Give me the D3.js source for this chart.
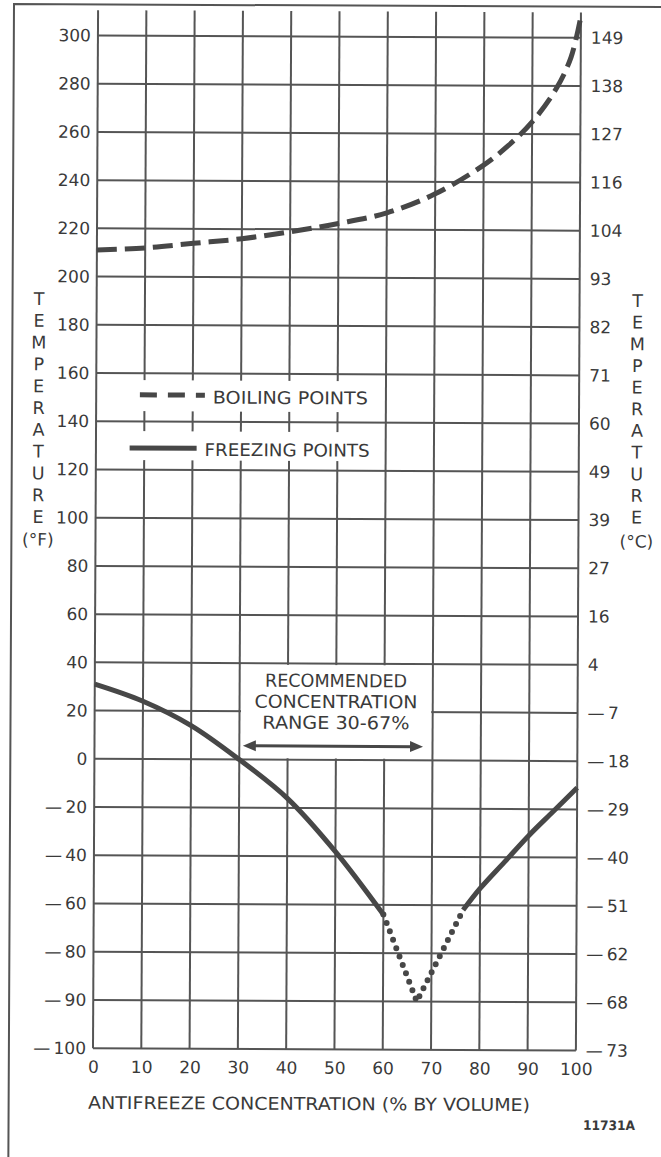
<!DOCTYPE html>
<html>
<head>
<meta charset="utf-8">
<script src="https://cdn.jsdelivr.net/npm/d3@7"></script>
<style>
  body { margin: 0; background: #fff; }
  svg { display: block; }
</style>
</head>
<body>
<script>
// ---------------- DATA ----------------
const concentrationTicks = [0, 10, 20, 30, 40, 50, 60, 70, 80, 90, 100];
const fahrenheitTicks = [300, 280, 260, 240, 220, 200, 180, 160, 140, 120, 100, 80, 60, 40, 20, 0, -20, -40, -60, -80, -90, -100];
const celsiusLabels = ["149", "138", "127", "116", "104", "93", "82", "71", "60", "49", "39", "27", "16", "4", "-7", "-18", "-29", "-40", "-51", "-62", "-68", "-73"];

// Boiling points (dashed)
const boilingConc = [0, 10, 20, 30, 40, 50, 60, 70, 80, 85, 90, 95, 98, 100];
const boilingTemp = [211, 212, 214, 216, 219, 222.5, 227, 235, 247, 255, 265, 279, 292, 309];

// Freezing points (solid, left branch)
const freezeLeftConc = [0, 10, 20, 30, 40, 50, 60];
const freezeLeftTemp = [31, 24, 14, 0, -16, -38, -64];
// Freezing points (dotted section)
const freezeDotConc = [60, 67, 76.5];
const freezeDotTemp = [-64, -90, -62];
// Freezing points (solid, right branch)
const freezeRightConc = [76.5, 80, 85, 90, 95, 100];
const freezeRightTemp = [-62, -53, -42, -31, -21, -11];

const rangeLow = 30, rangeHigh = 67;
const annotationLines = ["RECOMMENDED", "CONCENTRATION", "RANGE  30-67%"];
const legendLabels = ["BOILING POINTS", "FREEZING POINTS"];
const titleLetters = "TEMPERATURE".split("");

// ---------------- LAYOUT ----------------
const W = 661, H = 1157;
const ink = "#3a3a3a", gridCol = "#555", curveCol = "#474747";
const font = "'DejaVu Sans', sans-serif";
const xL = 95.3, xR = 578.2, yTop = 36.6, yBot = 1049.3;
const step = (yBot - yTop) / 21;

const x = d3.scaleLinear().domain([0, 100]).range([xL, xR]);
const y = d3.scaleLinear().domain([-100, -90, -80, 300]).range([yBot, yBot - step, yBot - 2 * step, yTop]);

const svg = d3.select("body").append("svg").attr("width", W).attr("height", H);
svg.append("rect").attr("width", W).attr("height", H).attr("fill", "#fff");
const g = svg.append("g").attr("transform", "rotate(0.28,330,578)");

// outer border (left and top edges visible)
g.append("path").attr("d", `M11.2,1170 V5.5 H680`).attr("fill", "none").attr("stroke", gridCol).attr("stroke-width", 2);

// grid
const grid = g.append("g").attr("stroke", gridCol).attr("stroke-width", 2);
grid.selectAll("line.h").data(fahrenheitTicks).join("line").attr("class", "h")
  .attr("x1", x(0)).attr("x2", x(100)).attr("y1", d => y(d)).attr("y2", d => y(d));
grid.selectAll("line.v").data(concentrationTicks).join("line").attr("class", "v")
  .attr("x1", d => x(d)).attr("x2", d => x(d)).attr("y1", y(310.5)).attr("y2", y(-100));

// white label boxes over grid
const boxes = g.append("g").attr("fill", "#fff");
boxes.append("rect").attr("x", 126).attr("y", 381).attr("width", 250).attr("height", 31);
boxes.append("rect").attr("x", 126).attr("y", 432).attr("width", 250).attr("height", 29);
boxes.append("rect").attr("x", x(rangeLow) + 1.5).attr("y", y(40) + 1.5)
  .attr("width", x(70) - x(rangeLow) - 3).attr("height", y(0) - y(40) - 3);

// axes
const fmt = v => (String(v).startsWith("-") ? "\u2014\u2009" + String(v).slice(1) : String(v));
const styleAxis = sel => {
  sel.select(".domain").remove();
  sel.selectAll("text").attr("fill", ink).style("font-family", font).style("font-size", "17px");
};
g.append("g").attr("transform", `translate(${xL},0)`)
  .call(d3.axisLeft(y).tickValues(fahrenheitTicks).tickSize(0).tickPadding(7).tickFormat(fmt))
  .call(styleAxis);
g.append("g").attr("transform", `translate(${xR},0)`)
  .call(d3.axisRight(y).tickValues(fahrenheitTicks).tickSize(0).tickPadding(10).tickFormat((d, i) => fmt(celsiusLabels[i])))
  .call(styleAxis);
g.append("g").attr("transform", `translate(0,${yBot})`)
  .call(d3.axisBottom(x).tickValues(concentrationTicks).tickSize(0).tickPadding(12.5))
  .call(styleAxis);

// curves
const zip = (a, b) => a.map((v, i) => [v, b[i]]);
const smooth = d3.line().x(d => x(d[0])).y(d => y(d[1])).curve(d3.curveCatmullRom.alpha(0.5));
const straight = d3.line().x(d => x(d[0])).y(d => y(d[1]));

g.append("path").attr("d", smooth(zip(boilingConc, boilingTemp)))
  .attr("fill", "none").attr("stroke", curveCol).attr("stroke-width", 5)
  .attr("stroke-dasharray", "20,8");
g.append("path").attr("d", smooth(zip(freezeLeftConc, freezeLeftTemp)))
  .attr("fill", "none").attr("stroke", curveCol).attr("stroke-width", 5);
g.append("path").attr("d", smooth(zip(freezeRightConc, freezeRightTemp)))
  .attr("fill", "none").attr("stroke", curveCol).attr("stroke-width", 5);
g.append("path").attr("d", straight(zip(freezeDotConc, freezeDotTemp)))
  .attr("fill", "none").attr("stroke", curveCol).attr("stroke-width", 6)
  .attr("stroke-linecap", "round").attr("stroke-dasharray", "0,9");

// legend
g.append("line").attr("x1", 139).attr("x2", 204).attr("y1", 395.8).attr("y2", 395.8)
  .attr("stroke", curveCol).attr("stroke-width", 5).attr("stroke-dasharray", "17,11");
g.append("line").attr("x1", 129).attr("x2", 196).attr("y1", 449).attr("y2", 449)
  .attr("stroke", curveCol).attr("stroke-width", 5);
const legText = [[212, 404.2, 155], [204, 456.5, 165]];
legendLabels.forEach((t, i) => {
  g.append("text").attr("x", legText[i][0]).attr("y", legText[i][1])
    .attr("textLength", legText[i][2]).attr("lengthAdjust", "spacingAndGlyphs")
    .attr("fill", ink).style("font-family", font).style("font-size", "17.5px").text(t);
});

// annotation
const annLen = [142, 163, 147];
annotationLines.forEach((t, i) => {
  g.append("text").attr("x", 336.6).attr("y", 687 + i * 21).attr("text-anchor", "middle")
    .attr("textLength", annLen[i]).attr("lengthAdjust", "spacingAndGlyphs")
    .attr("fill", ink).style("font-family", font).style("font-size", "18px").text(t);
});
const ay = y(5.7), ax1 = x(rangeLow) + 3.5, ax2 = x(rangeHigh) + 5;
g.append("line").attr("x1", ax1 + 8).attr("x2", ax2 - 8).attr("y1", ay).attr("y2", ay)
  .attr("stroke", curveCol).attr("stroke-width", 3);
g.append("path").attr("d", `M${ax1},${ay} L${ax1 + 13},${ay - 5.5} L${ax1 + 13},${ay + 5.5} Z`).attr("fill", curveCol);
g.append("path").attr("d", `M${ax2},${ay} L${ax2 - 13},${ay - 5.5} L${ax2 - 13},${ay + 5.5} Z`).attr("fill", curveCol);

// vertical titles
const vt = (cx, y0, dy, unit, uy) => {
  titleLetters.forEach((c, i) => {
    g.append("text").attr("x", cx).attr("y", y0 + i * dy).attr("text-anchor", "middle")
      .attr("fill", ink).style("font-family", font).style("font-size", "17.5px").text(c);
  });
  g.append("text").attr("x", cx).attr("y", uy).attr("text-anchor", "middle")
    .attr("fill", ink).style("font-family", font).style("font-size", "17px").text(unit);
};
vt(37.7, 306.4, 21.8, "(\u00B0F)", 547);
vt(636.2, 305.5, 21.65, "(\u00B0C)", 546);

// x-axis title and figure id
g.append("text").attr("x", 311.6).attr("y", 1110).attr("text-anchor", "middle")
  .attr("textLength", 442).attr("lengthAdjust", "spacingAndGlyphs")
  .attr("fill", ink).style("font-family", font).style("font-size", "17.5px")
  .text("ANTIFREEZE  CONCENTRATION  (% BY VOLUME)");
g.append("text").attr("x", 585.7).attr("y", 1128.6)
  .attr("textLength", 52).attr("lengthAdjust", "spacingAndGlyphs")
  .attr("fill", ink).style("font-family", font).style("font-size", "13px").style("font-weight", "bold")
  .text("11731A");
</script>
</body>
</html>
